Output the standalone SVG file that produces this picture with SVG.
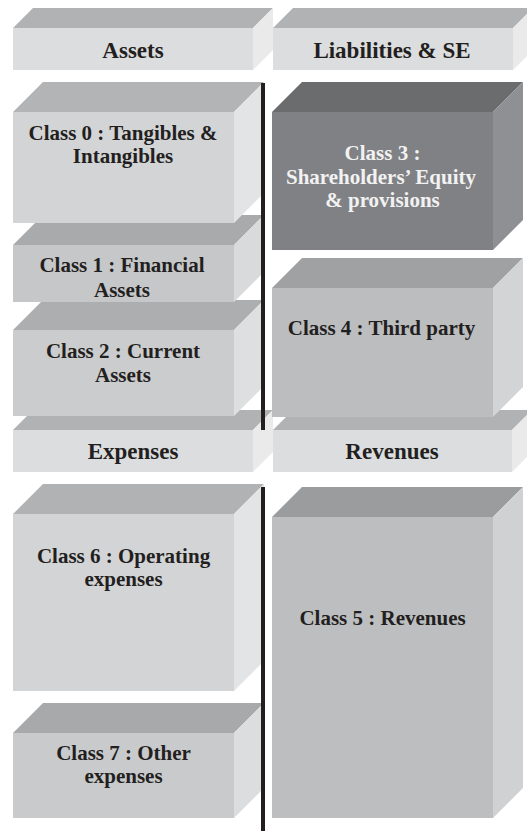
<svg xmlns="http://www.w3.org/2000/svg" width="527" height="831" viewBox="0 0 527 831">
<style>
text{font-family:"Liberation Serif","Times New Roman",serif;font-weight:bold;fill:#231f20;text-anchor:middle}
.h{font-size:23px}
.c{font-size:21px}
.w{fill:#f2f2f2}
.hf{fill:#dcdddf}.ht{fill:#b1b2b4}.hs{fill:#eaeaeb}
</style>
<rect width="527" height="831" fill="#ffffff"/>
<!-- Left column (drawn bottom-up so upper boxes overlap lower ones) -->
<g id="class7">
<polygon points="13,733 43,703 264,703 234,733" fill="#a8a9ab"/>
<polygon points="234,733 264,703 264,788 234,818" fill="#dcdddf"/>
<rect x="13" y="733" width="221" height="85" fill="#c9cacc"/>
<text class="c" x="123.5" y="760">Class 7 : Other</text>
<text class="c" x="123.5" y="783">expenses</text>
</g>
<g id="class6">
<polygon points="13,514 43,484 264,484 234,514" fill="#b1b2b4"/>
<polygon points="234,514 264,484 264,661 234,691" fill="#e3e4e5"/>
<rect x="13" y="514" width="221" height="177" fill="#d3d4d6"/>
<text class="c" x="123.5" y="563">Class 6 : Operating</text>
<text class="c" x="123.5" y="586">expenses</text>
</g>
<g id="expenses">
<polygon points="13,430 33,410 273,410 253,430" class="ht"/>
<polygon points="253,430 273,410 273,452 253,472" class="hs"/>
<rect x="13" y="430" width="240" height="42" class="hf"/>
<text class="h" x="133" y="459">Expenses</text>
</g>
<g id="class2">
<polygon points="13,330 43,300 264,300 234,330" fill="#adaeb0"/>
<polygon points="234,330 264,300 264,386 234,416" fill="#dedfe0"/>
<rect x="13" y="330" width="221" height="86" fill="#cbccce"/>
<text class="c" x="123" y="358">Class 2 : Current</text>
<text class="c" x="123" y="382">Assets</text>
</g>
<g id="class1">
<polygon points="13,245 43,215 264,215 234,245" fill="#a9aaac"/>
<polygon points="234,245 264,215 264,272 234,302" fill="#d9dadb"/>
<rect x="13" y="245" width="221" height="57" fill="#c6c7c9"/>
<text class="c" x="122" y="272">Class 1 : Financial</text>
<text class="c" x="122" y="297">Assets</text>
</g>
<g id="class0">
<polygon points="13,112 43,82 264,82 234,112" fill="#b3b4b6"/>
<polygon points="234,112 264,82 264,193 234,223" fill="#e3e4e5"/>
<rect x="13" y="112" width="221" height="111" fill="#d3d4d6"/>
<text class="c" x="123" y="140">Class 0 : Tangibles &amp;</text>
<text class="c" x="123" y="163">Intangibles</text>
</g>
<g id="assets">
<polygon points="13,28 33,8 273,8 253,28" class="ht"/>
<polygon points="253,28 273,8 273,50 253,70" class="hs"/>
<rect x="13" y="28" width="240" height="42" class="hf"/>
<text class="h" x="133" y="58">Assets</text>
</g>
<!-- Right column -->
<g id="class5">
<polygon points="272,517 302,487 523,487 493,517" fill="#9b9c9e"/>
<polygon points="493,517 523,487 523,788 493,818" fill="#d0d1d3"/>
<rect x="272" y="517" width="221" height="301" fill="#bdbec0"/>
<text class="c" x="382.5" y="625">Class 5 : Revenues</text>
</g>
<g id="revenues">
<polygon points="273,430 293,410 532,410 512,430" class="ht"/>
<polygon points="512,430 532,410 532,452 512,472" class="hs"/>
<rect x="273" y="430" width="239" height="42" class="hf"/>
<text class="h" x="392" y="459">Revenues</text>
</g>
<g id="class4">
<polygon points="272,288 302,258 523,258 493,288" fill="#a0a1a3"/>
<polygon points="493,288 523,258 523,387 493,417" fill="#d3d4d5"/>
<rect x="272" y="288" width="221" height="129" fill="#bcbdbf"/>
<text class="c" x="381.5" y="335">Class 4 : Third party</text>
</g>
<g id="class3">
<polygon points="272,112 302,82 523,82 493,112" fill="#6b6c6e"/>
<polygon points="493,112 523,82 523,220 493,250" fill="#8f9093"/>
<rect x="272" y="112" width="221" height="138" fill="#808184"/>
<text class="c w" x="382.5" y="160">Class 3 :</text>
<text class="c w" x="381" y="184">Shareholders’ Equity</text>
<text class="c w" x="382.5" y="207">&amp; provisions</text>
</g>
<g id="liabilities">
<polygon points="273,28 293,8 533,8 513,28" class="ht"/>
<polygon points="513,28 533,8 533,50 513,70" class="hs"/>
<rect x="273" y="28" width="240" height="42" class="hf"/>
<text class="h" x="392" y="58">Liabilities &amp; SE</text>
</g>
<g id="connectors">
<line x1="263" y1="83" x2="263" y2="430" stroke="#231f20" stroke-width="4"/>
<line x1="263" y1="487" x2="263" y2="831" stroke="#231f20" stroke-width="4"/>
</g>
</svg>
